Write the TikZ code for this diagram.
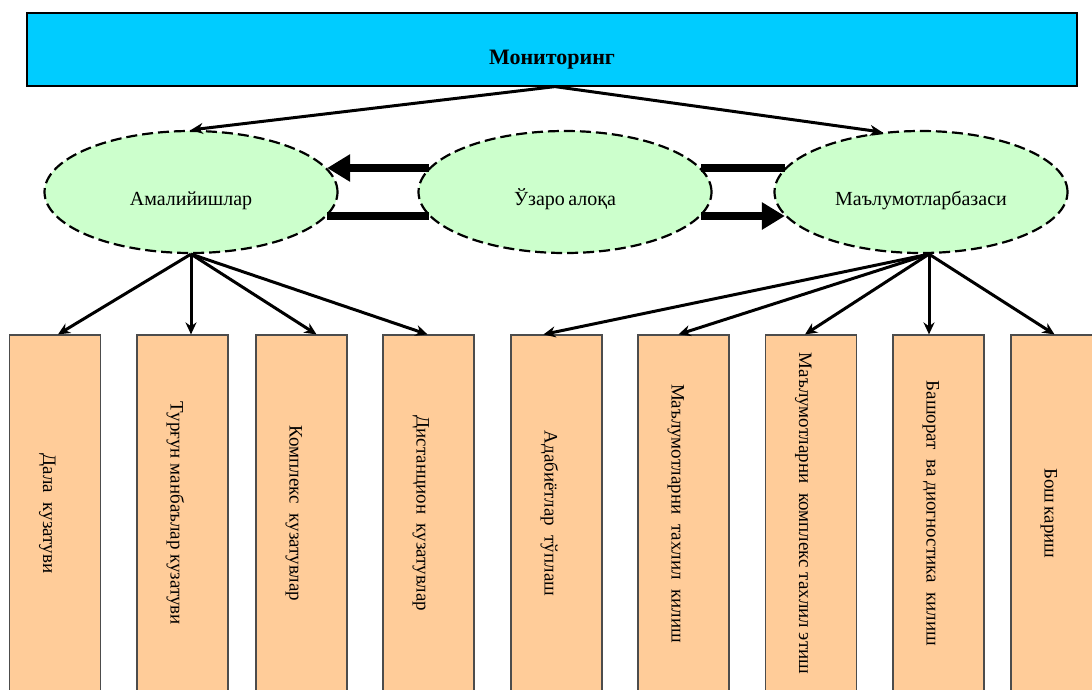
\documentclass[tikz,border=0pt]{standalone}
\usepackage{fontspec}
\setmainfont{Liberation Serif}
\usetikzlibrary{%
  arrows.meta,shapes.geometric}
\definecolor{monblue}{HTML}{00CCFF}
\definecolor{ovalgreen}{HTML}{CCFFCC}
\definecolor{leaforange}{HTML}{FFCC99}
\tikzset {>={Stealth[length=12pt,width=11pt]}}
\tikzset {
  monbox/.style={draw,line width=1.2pt,fill=monblue,
    minimum width=1050pt,minimum height=73pt,inner sep=0pt,
    font=\fontsize{22}{26}\selectfont\bfseries,
    text height=29pt,text depth=0pt},
  oval/.style={ellipse,draw,line width=2.2pt,
    dash pattern=on 11pt off 5pt,fill=ovalgreen,
    minimum width=293pt,minimum height=122pt,inner sep=0pt,
    font=\fontsize{20}{24}\selectfont,
    text height=26pt,text depth=0pt},
  leaf/.style={draw=black!70,line width=1.2pt,fill=leaforange,
    rotate=-90,minimum width=357pt,minimum height=91pt,
    inner sep=0pt,font=\fontsize{19}{23}\selectfont,
    text height=24pt,text depth=0pt},
  thin/.style={->,line width=3pt},
  fat/.style={line width=8pt}}

\begin{document}
\begin{tikzpicture}[x=1pt,y=-1pt]
\useasboundingbox (0,0) rectangle (1092,689);
\node[monbox] (mon) at (552,49.5) {Мониторинг};
\node[oval] (amal) at (191,192) {Амалийишлар};
\node[oval] (uzaro) at (565,192) {Ўзаро\,алоқа};
\node[oval] (baza) at (921,192) {Маълумотларбазаси};
\foreach \n/\x/\t in {b1/55/{Дала~ кузатуви},
  b2/182.5/{Турғун манбаълар кузатуви},
  b3/301.5/{Комплекс~ кузатувлар},
  b4/428.5/{Дистанцион~ кузатувлар},
  b5/556.5/{Адабиётлар~ тўплаш},
  b6/683.5/{Маълумотларни~ тахлил~ килиш},
  b7/811/{Маълумотларни~ комплекс тахлил этиш},
  b8/938.5/{Башорат~ ва диогностика~ килиш},
  b9/1056.5/{Бош\,кариш}}
  \node[leaf] (\n) at (\x,513.5) {\t};
\draw[thin] ([xshift=3pt]mon.south) -- (amal.north);
\draw[thin] ([xshift=3pt]mon.south) -- (baza.123);
\draw[fat,-{Triangle[length=23pt,width=26pt]}] (uzaro.170) -- (amal.10);
\draw[fat] (amal.-10) -- (uzaro.190);
\draw[fat] (uzaro.10) -- (baza.170);
\draw[fat,-{Triangle[length=23pt,width=26pt]}] (uzaro.-10) -- (baza.190);
\draw[thin] (amal.south) -- ([xshift=3pt]b1.west);
\draw[thin] (amal.south) -- (amal.south |- b2.west);
\draw[thin] (amal.south) -- ([xshift=15pt]b3.west);
\draw[thin] (amal.south) -- ([xshift=-1pt]b4.west);
\coordinate (hub) at ([xshift=8pt]baza.south);
\draw[thin] (hub) -- ([xshift=-13pt]b5.west);
\draw[thin] (hub) -- ([xshift=-5pt]b6.west);
\draw[thin] (hub) -- ([xshift=-6pt]b7.west);
\draw[thin] (hub) -- (hub |- b8.west);
\draw[thin] (hub) -- ([xshift=-2pt]b9.west);
\end{tikzpicture}
\end{document}
